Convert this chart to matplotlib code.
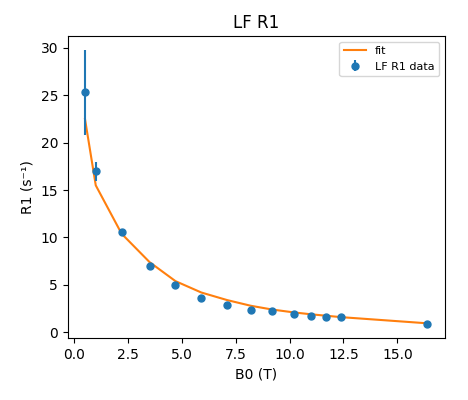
import matplotlib
matplotlib.use("Agg")
import matplotlib.pyplot as plt

b0 = [0.5, 1.0, 2.2, 3.5, 4.7, 5.9, 7.1, 8.2, 9.2, 10.2, 11.0, 11.7, 12.4, 16.4]
r1 = [25.3, 17.0, 10.6, 7.0, 5.0, 3.6, 2.9, 2.4, 2.2, 1.9, 1.7, 1.6, 1.6, 0.9]
r1_err = [4.5, 1.0, 0.3, 0.2, 0.15, 0.1, 0.1, 0.1, 0.1, 0.1, 0.1, 0.1, 0.1, 0.05]
fit = [22.5, 15.5, 10.4, 7.4, 5.4, 4.2, 3.4, 2.8, 2.4, 2.1, 1.9, 1.75, 1.6, 0.95]
xticks = [0.0, 2.5, 5.0, 7.5, 10.0, 12.5, 15.0]

fig = plt.figure(figsize=(4.68, 4.0), dpi=100)
ax = fig.add_axes([0.145, 0.155, 0.805, 0.755])
ax.plot(b0, fit, color="#ff7f0e", label="fit")
ax.errorbar(b0, r1, yerr=r1_err, fmt="o", color="#1f77b4", markersize=5, label="LF R1 data")
ax.set_xticks(xticks)
ax.set_title("LF R1")
ax.set_xlabel("B0 (T)")
ax.set_ylabel("R1 (s⁻¹)")
ax.legend(fontsize=8)
fig.savefig("out.png")
